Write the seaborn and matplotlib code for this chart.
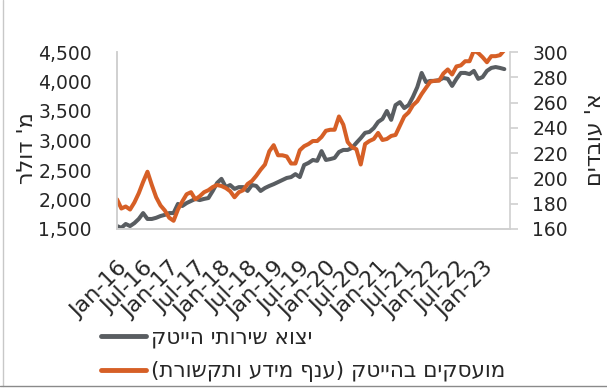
import matplotlib
matplotlib.use("Agg")
import matplotlib.pyplot as plt
import matplotlib.ticker as mticker
from matplotlib.lines import Line2D
import seaborn as sns
import numpy as np
import pandas as pd

# monthly series, Jan-16 .. Jun-23
exports = [1550, 1520, 1585, 1550, 1600, 1670, 1770, 1670, 1670, 1690, 1720, 1740,
           1770, 1770, 1925, 1890, 1940, 1975, 2010, 1990, 2010, 2025, 2145, 2280,
           2350, 2210, 2245, 2180, 2210, 2210, 2145, 2245, 2230, 2145, 2195, 2230,
           2260, 2295, 2330, 2365, 2380, 2430, 2380, 2585, 2620, 2670, 2655, 2820,
           2670, 2685, 2705, 2805, 2840, 2840, 2875, 2960, 3040, 3130, 3145, 3210,
           3315, 3365, 3500, 3350, 3600, 3650, 3550, 3600, 3740, 3905, 4145, 3990,
           4010, 4010, 4025, 4060, 4045, 3925, 4045, 4145, 4145, 4125, 4180, 4045,
           4075, 4180, 4230, 4245, 4230, 4210]
employees = [183.5, 176.2, 177.8, 175.4, 181.0, 188.3, 197.2, 205.3, 194.8, 185.1, 178.6, 174.6,
             168.9, 166.5, 175.4, 181.8, 187.5, 189.1, 183.5, 185.9, 189.1, 190.7, 193.2, 194.8,
             194.0, 192.4, 189.9, 185.1, 189.1, 190.7, 195.6, 198.0, 202.1, 206.9, 211.0, 221.5,
             226.3, 218.3, 218.3, 217.4, 211.8, 211.8, 222.3, 225.5, 227.2, 229.6, 229.6, 232.8,
             237.7, 238.5, 238.5, 249.0, 242.5, 228.8, 224.7, 223.1, 211.0, 227.2, 229.6, 231.2,
             236.0, 230.4, 231.2, 233.6, 234.4, 241.7, 249.0, 252.2, 257.9, 261.1, 266.8, 271.7,
             276.5, 277.3, 277.3, 283.0, 286.2, 282.2, 288.6, 289.4, 292.7, 292.7, 301.0, 299.2,
             295.9, 291.9, 296.7, 296.7, 297.5, 301.5]
months = pd.date_range("2016-01-01", periods=len(exports), freq="MS")
tick_labels = [m.strftime("%b-%y") for m in months][::6]

label_exports = "יצוא שירותי הייטק"
label_employees = "מועסקים בהייטק (ענף מידע ותקשורת)"
ylabel_left = "מ' דולר"
ylabel_right = "א' עובדים"

GREY = "#595d61"
ORANGE = "#d65f26"
AXIS = "#d0d0d0"
TXT = "#262626"


def rtl(s):
    # matplotlib has no bidi support: lay out Hebrew visually
    s = s[::-1]
    return s.translate(str.maketrans("()", ")("))


sns.set_style("white")
plt.rcParams["font.family"] = ["DejaVu Sans", "Liberation Sans"]
plt.rcParams["font.size"] = 13

df = pd.DataFrame({"i": np.arange(len(exports)), "exports": exports, "employees": employees})

fig = plt.figure(figsize=(6.07, 3.88), dpi=100)
ax = fig.add_axes([117 / 607, 1 - 229 / 388, (510 - 117) / 607, (229 - 52) / 388])
ax2 = ax.twinx()

sns.lineplot(data=df, x="i", y="exports", ax=ax, color=GREY, lw=2.9)
sns.lineplot(data=df, x="i", y="employees", ax=ax2, color=ORANGE, lw=2.9)

ax.set_xlim(0, 90.3)
ax.set_ylim(1500, 4500)
ax.set_yticks(np.arange(1500, 4501, 500))
ax.yaxis.set_major_formatter(mticker.FuncFormatter(lambda v, p: f"{v:,.0f}"))
ax2.set_ylim(160, 300)
ax2.set_yticks(np.arange(160, 301, 20))

ax.set_xticks(np.arange(0, len(exports), 6))
ax.set_xticklabels(tick_labels, rotation=45, ha="right", rotation_mode="anchor")
ax.set_xlabel("")
ax.set_ylabel("")
ax2.set_ylabel("")

for a in (ax, ax2):
    for s in a.spines.values():
        s.set_color(AXIS)
        s.set_linewidth(1.2)
    a.spines["top"].set_visible(False)
ax.spines["right"].set_visible(False)

ax.tick_params(axis="x", length=0, pad=21, labelsize=16, colors=TXT)
ax.tick_params(axis="y", length=0, pad=18, labelsize=13.5, colors=TXT)
ax2.tick_params(axis="y", length=6, width=1.2, color=AXIS, pad=10, labelsize=13.5,
                labelcolor=TXT)

fig.text(27 / 607, 1 - 148 / 388, rtl(ylabel_left), rotation=90, ha="center", va="center",
         fontsize=16, color=TXT)
fig.text(595 / 607, 1 - 140 / 388, rtl(ylabel_right), rotation=90, ha="center", va="center",
         fontsize=16, color=TXT)

handles = [Line2D([], [], color=GREY, lw=3.5), Line2D([], [], color=ORANGE, lw=3.5)]
fig.legend(handles, [rtl(label_exports), rtl(label_employees)], loc="upper left",
           bbox_to_anchor=(101 / 607, 1 - 328 / 388), frameon=False, fontsize=15.5,
           handlelength=2.1, handletextpad=0.2, labelspacing=0.6, borderpad=0,
           borderaxespad=0)

# chart frame
fig.add_artist(Line2D([3 / 607, 3 / 607], [0.005, 1], color="#c8c8c8", lw=1))
fig.add_artist(Line2D([0, 1], [2 / 388, 2 / 388], color="#8a8a8a", lw=1))

fig.savefig("out.png", dpi=100)
